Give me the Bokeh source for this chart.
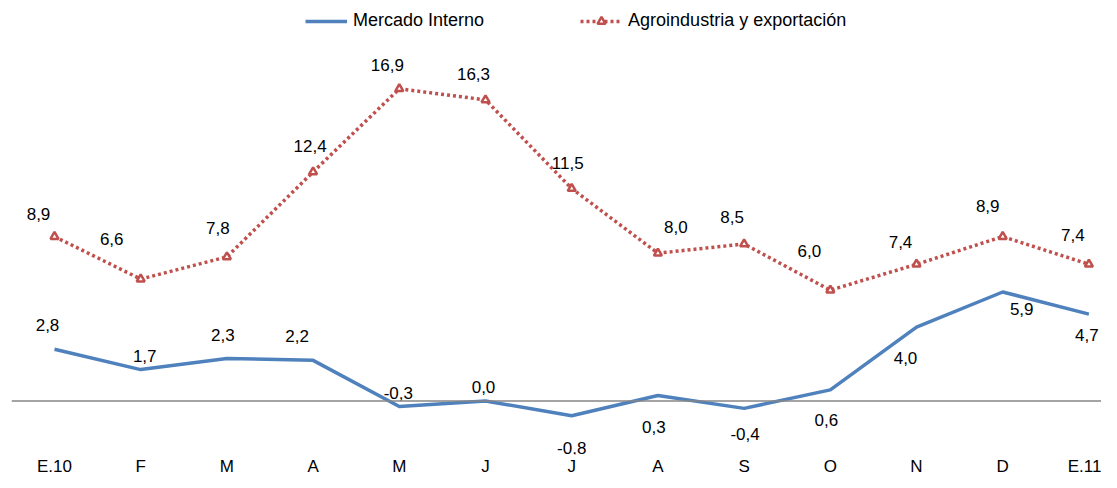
from bokeh.plotting import figure
from bokeh.models import ColumnDataSource, Range1d, FixedTicker, Span, Legend, LegendItem
from bokeh.core.properties import value
from bokeh.embed import file_html
from bokeh.resources import INLINE

# ---- data ----
categories = ["E.10", "F", "M", "A", "M", "J", "J", "A", "S", "O", "N", "D", "E.11"]
mercado_interno = [2.8, 1.7, 2.3, 2.2, -0.3, 0.0, -0.8, 0.3, -0.4, 0.6, 4.0, 5.9, 4.7]
agroindustria = [8.9, 6.6, 7.8, 12.4, 16.9, 16.3, 11.5, 8.0, 8.5, 6.0, 7.4, 8.9, 7.4]
series_names = ["Mercado Interno", "Agroindustria y exportación"]

# ---- label placement (screen px, +y = down) ----
blue_dx = [-7, 4, -4, -16, -1, -2, 0, -4, 1, -4, -11, 19, -2]
blue_dy = [-24, -14, -23, -24, -14, -14, 32, 32, 26, 30, 31, 17, 21]
red_dx = [-16, -29, -9, -3, -12, -12, -4, 18, -12, -21, -16, -15, -16]
red_dy = [-23, -40, -29, -26, -24, -26, -26, -26, -27, -39, -22, -31, -29]

BLUE = "#4F81BD"
RED = "#C0504D"
FONT = "Liberation Sans"

def fmt(v):
    return f"{v:.1f}".replace(".", ",")

xs = list(range(len(categories)))
src_b = ColumnDataSource(dict(x=xs, y=mercado_interno, t=[fmt(v) for v in mercado_interno],
                              dx=blue_dx, dy=blue_dy))
src_r = ColumnDataSource(dict(x=xs, y=agroindustria, t=[fmt(v) for v in agroindustria],
                              dx=red_dx, dy=red_dy))

p = figure(frame_width=1090, frame_height=454, output_backend="svg", toolbar_location=None,
           x_range=Range1d(-0.4988, 12.146), y_range=Range1d(-2.897, 21.68),
           min_border_left=11, min_border_right=0, min_border_top=0, min_border_bottom=0,
           background_fill_color="white", border_fill_color="white")
p.outline_line_color = None
p.grid.visible = False
p.yaxis.visible = False

ax = p.xaxis[0]
ax.ticker = FixedTicker(ticks=xs)
ax.major_label_overrides = {i: c for i, c in enumerate(categories)}
ax.axis_line_color = None
ax.major_tick_line_color = None
ax.minor_tick_line_color = None
ax.major_tick_in = 0
ax.major_tick_out = 0
ax.major_label_standoff = 2
ax.major_label_text_font = FONT
ax.major_label_text_font_size = "17px"
ax.major_label_text_color = "#000000"

p.add_layout(Span(location=0, dimension="width", line_color="#868686", line_width=1.5))

r_blue = p.line("x", "y", source=src_b, line_color=BLUE, line_width=3.5, line_join="round")
r_red = p.line("x", "y", source=src_r, line_color=RED, line_width=3.5, line_dash="3 3", line_cap="butt")
r_red_m = p.scatter("x", "y", source=src_r, marker="triangle", size=8, line_color=RED,
                    line_width=2.5, fill_color="white")

for src in (src_b, src_r):
    p.text("x", "y", text="t", source=src, x_offset="dx", y_offset="dy",
           text_font=value(FONT), text_font_size="17px", text_color="#000000",
           text_align="center", text_baseline="middle")

legend = Legend(items=[LegendItem(label=series_names[0], renderers=[r_blue]),
                       LegendItem(label=series_names[1], renderers=[r_red, r_red_m])],
                orientation="horizontal", location=(294, 423),
                glyph_width=42, label_standoff=6, spacing=96, padding=0, margin=0,
                border_line_color=None, background_fill_alpha=0,
                label_text_font=FONT, label_text_font_size="18px", label_text_color="#000000")
p.add_layout(legend, "center")

open("out.html", "w").write(file_html(p, INLINE))
